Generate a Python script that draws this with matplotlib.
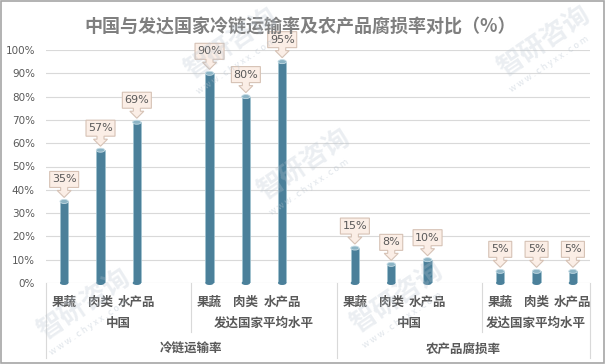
import matplotlib.pyplot as plt
import matplotlib.transforms as mtransforms
from matplotlib.patches import Polygon, Ellipse, Rectangle

plt.rcParams['font.family'] = ['Noto Sans CJK SC', 'DejaVu Sans']

# 数据
items = ['果蔬', '肉类', '水产品']
regions = ['中国', '发达国家平均水平']
indicators = ['冷链运输率', '农产品腐损率']
values = [35, 57, 69, 90, 80, 95, 15, 8, 10, 5, 5, 5]
labels = ['35%', '57%', '69%', '90%', '80%', '95%', '15%', '8%', '10%', '5%', '5%', '5%']
yticks = [0, 10, 20, 30, 40, 50, 60, 70, 80, 90, 100]

fig = plt.figure(figsize=(6.05, 3.64), dpi=100)
ax = fig.add_axes([46 / 605, 81 / 364, 544 / 605, 233 / 364])

# 位置：每组3根柱，组间空一格
xs = [4 * g + j for g in range(4) for j in range(3)]
ax.set_xlim(-0.5, 14.47)
ax.set_ylim(0, 100)

# 网格线
for t in yticks[1:]:
    ax.axhline(t, color='#d9d9d9', lw=0.8, zorder=0)
ax.axhline(0, color='#d0d0d0', lw=0.8, zorder=0)

# 柱子（圆柱）
bar_w = 0.23
ax.bar(xs, values, width=bar_w, color='#4b809a', edgecolor='#9fc2d0',
       linewidth=0.5, zorder=2)
for x, v in zip(xs, values):
    trans = fig.dpi_scale_trans + mtransforms.ScaledTranslation(x, v, ax.transData)
    ax.add_patch(Ellipse((0, 0), 0.084, 0.04, transform=trans, facecolor='#8cb4c5',
                         edgecolor='#c6dce5', lw=0.6, zorder=3, clip_on=False))
    trans0 = fig.dpi_scale_trans + mtransforms.ScaledTranslation(x, 0, ax.transData)
    ax.add_patch(Ellipse((0, 0), 0.084, 0.04, transform=trans0, facecolor='#4b809a',
                         edgecolor='none', zorder=2, clip_on=False))

# 数据标签（下箭头标注框）
for x, v, lab in zip(xs, values, labels):
    bw = 11.5 if len(lab) == 2 else 14.5
    tip, head, boxb, boxt = 4, 11, 14, 30
    pts = [(0, tip), (7, head), (3.5, head), (3.5, boxb), (bw, boxb), (bw, boxt),
           (-bw, boxt), (-bw, boxb), (-3.5, boxb), (-3.5, head), (-7, head)]
    pts = [(px / 100, py / 100) for px, py in pts]
    trans = fig.dpi_scale_trans + mtransforms.ScaledTranslation(x, v, ax.transData)
    ax.add_patch(Polygon(pts, closed=True, transform=trans, facecolor='#fbeee6',
                         edgecolor='#d6c2b5', lw=0.8, zorder=4, clip_on=False))
    ax.annotate(lab, (x, v), xytext=(0, (boxb + boxt) / 2 * 0.72),
                textcoords='offset points', ha='center', va='center',
                fontsize=8, color='#595959', zorder=5, family='DejaVu Sans')

# y轴
ax.set_yticks(yticks)
ax.set_yticklabels([f'{t}%' for t in yticks], fontsize=7.5, color='#595959',
                   family='DejaVu Sans')
ax.tick_params(axis='y', length=0, pad=8)
ax.set_xticks([])
for s in ax.spines.values():
    s.set_visible(False)

# 多级分类轴
lc = '#d9d9d9'
for x, low in [(-0.5, -32.2), (3.5, -21), (7.5, -32.2), (11.5, -21), (14.47, -32.2)]:
    ax.plot([x, x], [0, low], color=lc, lw=0.8, clip_on=False)
tc = '#595959'
for x, j in zip(xs, [0, 1, 2] * 4):
    ax.text(x, -8.2, items[j], ha='center', va='center', fontsize=9,
            fontweight='bold', color=tc, clip_on=False)
for g, cx in enumerate([1.5, 5.5, 9.5, 12.985]):
    ax.text(cx, -17.2, regions[g % 2], ha='center', va='center', fontsize=9,
            fontweight='bold', color=tc, clip_on=False)
for i, cx in enumerate([3.5, 10.985]):
    ax.text(cx, -28.3, indicators[i], ha='center', va='center', fontsize=9,
            fontweight='bold', color=tc, clip_on=False)

# 标题
fig.text(300 / 605, 1 - 27 / 364, '中国与发达国家冷链运输率及农产品腐损率对比（%）',
         ha='center', va='center', fontsize=13, fontweight='bold', color='#7f7f7f')

# 水印
for cx, cy in [(232, 44), (305, 165), (85, 305), (545, 42), (398, 298)]:
    fig.text(cx / 605, 1 - cy / 364, '智研咨询', rotation=34, ha='center', va='center',
             fontsize=19, fontweight='bold', color='#b8c4d0', alpha=0.28, zorder=10)
    fig.text((cx + 4) / 605, 1 - (cy + 22) / 364, 'w w w . c h y x x . c o m', rotation=34,
             ha='center', va='center', fontsize=6.5, color='#b8c4d0', alpha=0.45, zorder=10)

# 边框
fig.patches.append(Rectangle((0.001, 0.002), 0.997, 0.995, transform=fig.transFigure,
                             fill=False, edgecolor='#a6a6a6', lw=1.2))

fig.savefig('out.png', dpi=100)
